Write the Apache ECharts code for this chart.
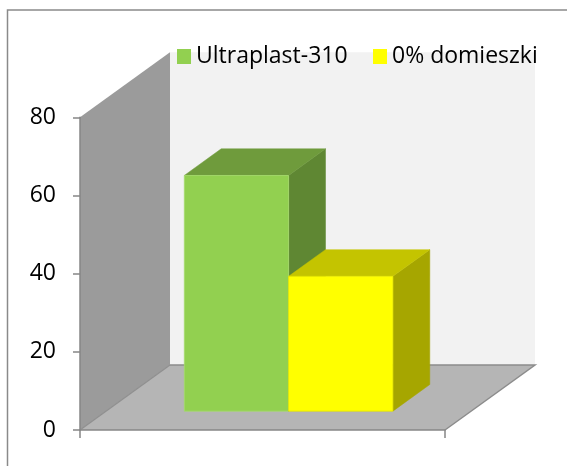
<!DOCTYPE html>
<html>
<head>
<meta charset="utf-8">
<style>
  html, body { margin: 0; padding: 0; background: #ffffff; }
  #chart { width: 567px; height: 466px; }
</style>
<script src="https://cdn.jsdelivr.net/npm/echarts@6/dist/echarts.min.js"></script>
</head>
<body>
<div id="chart"></div>
<script>
// ---- data ----
const categories = [''];
const seriesNames = ['Ultraplast-310', '0% domieszki'];
const ultraplastValues = [60.3];
const domieszkiValues = [34.5];
const yTicks = [0, 20, 40, 60, 80];

// ---- 3D look (styles / geometry constants) ----
const DEPTH_DX = 90, DEPTH_DY = 65;     // full floor depth offset in px
const BAR_FRONT = 0.29, BAR_BACK = 0.70; // bar depth span (fraction of floor depth)
const GAP = 1.5;                         // gap width (150%)
const FONT = '"Open Sans", sans-serif';
const AXIS_COLOR = '#868686';

const seriesColors = [
  { front: '#92D050', top: '#6f9b3c', side: '#5f8733', edge: '#a6dc6c' },
  { front: '#FFFF00', top: '#c4c400', side: '#a6a600', edge: '#e6e600' }
];

function P(x, y, d) { return [x + d * DEPTH_DX, y - d * DEPTH_DY]; }

function renderWalls(params, api) {
  const band = api.size([1, 0])[0];
  const b = api.coord([api.value(0), yTicks[0]]);
  const t = api.coord([api.value(0), api.value(1)]);
  const xl = b[0] - band / 2, xr = b[0] + band / 2, yb = b[1], yt = t[1];
  const leftWall = [P(xl, yb, 0), P(xl, yt, 0), P(xl, yt, 1), P(xl, yb, 1)];
  const backWall = [P(xl, yt, 1), P(xr, yt, 1), P(xr, yb, 1), P(xl, yb, 1)];
  const floor = [P(xl, yb, 0), P(xr, yb, 0), P(xr, yb, 1), P(xl, yb, 1)];
  return {
    type: 'group',
    children: [
      { type: 'polygon', shape: { points: backWall }, style: { fill: '#f2f2f2' } },
      { type: 'polygon', shape: { points: leftWall }, style: { fill: '#9b9b9b' } },
      { type: 'polygon', shape: { points: floor }, style: { fill: '#b5b5b5' } },
      { type: 'polyline', shape: { points: [P(xl, yb, 0), P(xl, yb, 1)] },
        style: { stroke: '#8f8f8f', lineWidth: 1.2, fill: null } },
      { type: 'polyline', shape: { points: [P(xr, yb, 0), P(xr, yb, 1), P(xl, yb, 1)] },
        style: { stroke: '#8c8c8c', lineWidth: 1.5, fill: null } }
    ]
  };
}

function makeBarRenderer(idx, count) {
  return function (params, api) {
    const band = api.size([1, 0])[0];
    const barW = band / (count + GAP);
    const base = api.coord([api.value(0), 0]);
    const top = api.coord([api.value(0), api.value(1)]);
    const x0 = base[0] - (count * barW) / 2 + idx * barW;
    const x1 = x0 + barW;
    const yb = base[1], yt = top[1];
    const c = seriesColors[idx];
    const front = [P(x0, yb, BAR_FRONT), P(x0, yt, BAR_FRONT), P(x1, yt, BAR_FRONT), P(x1, yb, BAR_FRONT)];
    const topFace = [P(x0, yt, BAR_FRONT), P(x1, yt, BAR_FRONT), P(x1, yt, BAR_BACK), P(x0, yt, BAR_BACK)];
    const side = [P(x1, yt, BAR_FRONT), P(x1, yt, BAR_BACK), P(x1, yb, BAR_BACK), P(x1, yb, BAR_FRONT)];
    return {
      type: 'group',
      children: [
        { type: 'polygon', shape: { points: side }, style: { fill: c.side, stroke: c.side, lineWidth: 0.5 } },
        { type: 'polygon', shape: { points: topFace }, style: { fill: c.top, stroke: c.top, lineWidth: 0.5 } },
        { type: 'polygon', shape: { points: front }, style: { fill: c.front, stroke: c.edge, lineWidth: 0.8 } }
      ]
    };
  };
}

const chart = echarts.init(document.getElementById('chart'), null, { renderer: 'canvas' });
chart.setOption({
  animation: false,
  backgroundColor: '#ffffff',
  graphic: [{
    type: 'rect', z: -10, silent: true,
    shape: { x: 7.5, y: 10, width: 700, height: 600 },
    style: { fill: null, stroke: '#8a8a8a', lineWidth: 1.5 }
  }],
  legend: [
    { data: [seriesNames[0]], left: 172, top: 40, icon: 'rect', itemWidth: 14, itemHeight: 15,
      textStyle: { fontFamily: FONT, fontSize: 23, color: '#000' } },
    { data: [seriesNames[1]], left: 368, top: 40, icon: 'rect', itemWidth: 14, itemHeight: 15,
      textStyle: { fontFamily: FONT, fontSize: 23, color: '#000' } }
  ],
  grid: { left: 80, right: 122, top: 117.3, bottom: 36, containLabel: false },
  xAxis: {
    type: 'category', data: categories, boundaryGap: true,
    axisLine: { show: true, lineStyle: { color: AXIS_COLOR, width: 1.5 } },
    axisTick: { show: true, length: 8, lineStyle: { color: AXIS_COLOR, width: 1.5 } },
    axisLabel: { show: false }, splitLine: { show: false }
  },
  yAxis: {
    type: 'value', min: yTicks[0], max: yTicks[yTicks.length - 1], interval: yTicks[1] - yTicks[0],
    axisLine: { show: true, lineStyle: { color: AXIS_COLOR, width: 1.5 } },
    axisTick: { show: true, length: 7, lineStyle: { color: AXIS_COLOR, width: 1.5 } },
    axisLabel: { show: true, margin: 24, fontFamily: FONT, fontSize: 23, color: '#000' },
    splitLine: { show: false }
  },
  series: [
    {
      type: 'custom', name: 'walls', z: -1, silent: true, clip: false,
      renderItem: renderWalls, encode: { x: 0, y: 1 },
      data: categories.map((c, i) => [i, yTicks[yTicks.length - 1]])
    },
    {
      type: 'custom', name: seriesNames[0], z: 2, clip: false,
      itemStyle: { color: seriesColors[0].front },
      renderItem: makeBarRenderer(0, 2), encode: { x: 0, y: 1 },
      data: categories.map((c, i) => [i, ultraplastValues[i]])
    },
    {
      type: 'custom', name: seriesNames[1], z: 3, clip: false,
      itemStyle: { color: seriesColors[1].front },
      renderItem: makeBarRenderer(1, 2), encode: { x: 0, y: 1 },
      data: categories.map((c, i) => [i, domieszkiValues[i]])
    }
  ]
});
</script>
</body>
</html>
